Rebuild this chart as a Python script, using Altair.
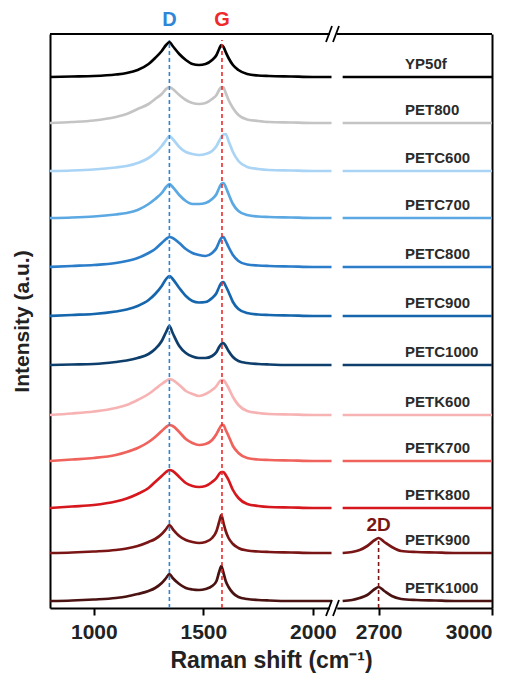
import altair as alt
import pandas as pd

# ---------------- data ----------------
SAMPLES = ["YP50f", "PET800", "PETC600", "PETC700", "PETC800", "PETC900",
           "PETC1000", "PETK600", "PETK700", "PETK800", "PETK900", "PETK1000"]
COLORS = ["#000000", "#c4c4c4", "#aad4f5", "#5ba8e2", "#2b7dc9", "#1666ad",
          "#0e3f6c", "#f7b3b3", "#f0625c", "#d6171e", "#7a1515", "#4b1212"]
# vertical stacking offsets (a.u.)
OFFSETS = [524, 478, 430, 383, 334, 285, 236, 186, 140, 93, 48, 0]

# Raman shift grid, left (first-order) region
X_LEFT = [800, 900, 1000, 1100, 1150, 1200, 1250, 1280, 1310, 1330, 1345, 1360,
          1390, 1420, 1450, 1480, 1510, 1540, 1560, 1572, 1582, 1592, 1602, 1615,
          1635, 1660, 1700, 1750, 1800, 1900, 2000, 2085]
YP50f = [0, 0.5, 1, 2.5, 4, 7, 13, 19, 26, 32, 35, 31, 23, 17, 13, 12, 13, 17, 22, 28,
         32, 30, 25, 19, 12, 7, 3, 1.5, 1, 0.5, 0, 0]
PET800 = [0, 1, 2.5, 6, 9, 14, 19, 24, 29, 34, 36, 34, 28, 23, 20, 19, 20, 24, 28, 33,
          36, 35.5, 30, 23, 15, 8, 3.5, 2, 1, 0.5, 0, 0]
PETC600 = [0, 0.5, 1.5, 3.5, 5, 8, 13, 18, 25, 31, 35, 32, 24, 19, 17, 16, 17, 20, 25, 30,
           34, 36.5, 37, 30, 19, 10, 4, 2, 1, 0.5, 0, 0]
PETC700 = [0, 0.5, 1.5, 3.5, 5, 8, 14, 19, 25, 31, 34, 31, 23, 17, 14, 14, 15, 19, 24, 30,
           34, 35, 31, 24, 14, 7, 3, 1.5, 1, 0.5, 0, 0]
PETC800 = [0, 1, 2, 4, 6, 9, 14, 18, 24, 28, 30, 29, 24, 18, 14, 12, 11, 14, 19, 25,
           29, 30, 26, 20, 12, 6, 2.5, 1.5, 1, 0.5, 0, 0]
PETC900 = [0, 1, 2, 4.5, 6.5, 10, 16, 22, 30, 37, 40, 37, 28, 20, 15, 13.5, 14, 18, 23, 29,
           33, 34, 30, 24, 14, 7, 3, 1.5, 1, 0.5, 0, 0]
PETC1000 = [0, 0.5, 1, 3, 4.5, 7, 11, 16, 24, 33, 39, 32, 19, 12, 8.5, 7, 7, 9, 13, 18,
            21, 22, 19, 14, 8, 4, 2, 1, 0.5, 0, 0, 0]
PETK600 = [0, 1.5, 3.5, 7, 10, 15, 21, 26, 31, 34, 36, 35, 30, 24, 21, 19, 21, 25, 29, 33,
           35, 35, 32, 27, 18, 10, 4, 2, 1, 0.5, 0, 0]
PETK700 = [0, 1.5, 3, 6, 9, 13, 19, 24, 30, 34, 36, 35, 29, 22, 18, 16, 17, 21, 27, 32,
           35.5, 36, 31, 25, 15, 8, 3, 1.5, 1, 0.5, 0, 0]
PETK800 = [0, 1.5, 3, 6.5, 9.5, 14, 20, 26, 32, 36, 38, 37, 31, 25, 22, 21, 22, 26, 30, 34,
           36, 36, 33, 28, 18, 10, 4, 2, 1, 0.5, 0, 0]
PETK900 = [0, 0.5, 1.5, 3, 4.5, 7, 11, 14, 19, 24, 28, 24, 17, 13, 11, 10, 11, 15, 22, 31,
           38, 30, 22, 15, 9, 5, 2.5, 1.5, 1, 0.5, 0, 0]
PETK1000 = [0, 0.5, 1.5, 3, 4.5, 7, 10, 13, 18, 23, 27, 23, 17, 13, 11.5, 11, 12, 15, 20, 29,
            35, 28, 20, 14, 8, 4, 2, 1, 0.5, 0, 0, 0]
LEFT = [YP50f, PET800, PETC600, PETC700, PETC800, PETC900, PETC1000,
        PETK600, PETK700, PETK800, PETK900, PETK1000]

# right (second-order) region
X_RIGHT = [2605, 2630, 2650, 2670, 2690, 2700, 2715, 2735, 2760, 2800, 2850, 2900, 2950, 3000]
FLAT_R = [0, 0, 0, 0, 0, 0, 0, 0, 0, 0, 0, 0, 0, 0]
PETK900_R = [0, 1, 3, 7, 13, 15, 11, 6, 2, 1, 0.5, 0, 0, 0]
PETK1000_R = [0, 1, 3, 6, 12, 14, 10, 5, 2, 1, 0.5, 0, 0, 0]
RIGHT = [FLAT_R, FLAT_R, FLAT_R, FLAT_R, FLAT_R, FLAT_R, FLAT_R,
         FLAT_R, FLAT_R, FLAT_R, PETK900_R, PETK1000_R]

PEAK_NAMES = ["D", "G"]
PEAK_POS = [1345, 1585]
PEAK_COLORS = ["#2e86d6", "#ee2a2a"]
PEAK_TOP = 561
BAND2D_POS = 2700
BAND2D_TOP = 63
BAND2D_LABEL_Y = 76
LABEL_X = 2770
LABEL_DY = 13

X_TICKS_L = [1000, 1500, 2000]
X_TICKS_R = [2700, 3000]

# ---------------- tables ----------------
rows_l, rows_r = [], []
for s, off, vl, vr in zip(SAMPLES, OFFSETS, LEFT, RIGHT):
    for x, v in zip(X_LEFT, vl):
        rows_l.append({"sample": s, "shift": x, "intensity": off + v})
    for x, v in zip(X_RIGHT, vr):
        rows_r.append({"sample": s, "shift": x, "intensity": off + v})
df_l = pd.DataFrame(rows_l)
df_r = pd.DataFrame(rows_r)
df_peaks = pd.DataFrame({"name": PEAK_NAMES, "shift": PEAK_POS, "color": PEAK_COLORS,
                         "intensity": [-7, -7], "intensity2": [PEAK_TOP, PEAK_TOP]})
df_2d = pd.DataFrame({"name": ["2D"], "shift": [BAND2D_POS], "intensity": [-7],
                      "intensity2": [BAND2D_TOP], "ly": [BAND2D_LABEL_Y]})
df_lab = pd.DataFrame({"sample": SAMPLES, "shift": [LABEL_X] * len(SAMPLES),
                       "intensity": [o + LABEL_DY for o in OFFSETS]})
one = pd.DataFrame({"a": [0]})

# ---------------- layout ----------------
W_L, W_R, H = 287, 155, 574
FONT = "Liberation Sans"
XT = "Raman shift (cm⁻¹)"
YT = "Intensity (a.u.)"

yscale = alt.Scale(domain=[-7, 567], nice=False, zero=False)
xs_l = alt.Scale(domain=[800, 2110], nice=False, zero=False)
xs_r = alt.Scale(domain=[2590, 3000], nice=False, zero=False)
color = alt.Color("sample:N", scale=alt.Scale(domain=SAMPLES, range=COLORS), legend=None)

ax_l = alt.Axis(values=X_TICKS_L, format="d", title=XT, titleX=221, titleY=52,
                titleAlign="center", titleBaseline="middle", titleFontSize=23)
ay_l = alt.Axis(title=YT, labels=False, ticks=False, titlePadding=18, titleFontSize=21)
ax_r = alt.Axis(values=X_TICKS_R, format="d", title=None)
ay_r = alt.Axis(orient="right", labels=False, ticks=False, title=None)

lines_l = alt.Chart(df_l).mark_line(strokeWidth=2.7, interpolate="monotone").encode(
    x=alt.X("shift:Q", scale=xs_l, axis=ax_l, title=XT),
    y=alt.Y("intensity:Q", scale=yscale, axis=ay_l, title=YT),
    color=color,
)
peak_rules = alt.Chart(df_peaks).mark_rule(strokeWidth=1.6, strokeDash=[4, 3]).encode(
    x=alt.X("shift:Q", scale=xs_l, title=XT),
    y=alt.Y("intensity:Q", scale=yscale, title=YT),
    y2="intensity2:Q",
    color=alt.Color("color:N", scale=None),
)
peak_text = alt.Chart(df_peaks).mark_text(font=FONT, fontSize=20, fontWeight="bold",
                                          baseline="middle").encode(
    x=alt.X("shift:Q", scale=xs_l, title=XT),
    y=alt.value(-14),
    text="name:N",
    color=alt.Color("color:N", scale=None),
)
top_l = alt.Chart(one).mark_rule(color="black", strokeWidth=2).encode(
    x=alt.value(0), x2=alt.value(W_L), y=alt.value(0))

left = alt.layer(lines_l, peak_rules, peak_text, top_l).properties(width=W_L, height=H)

lines_r = alt.Chart(df_r).mark_line(strokeWidth=2.7, interpolate="monotone").encode(
    x=alt.X("shift:Q", scale=xs_r, axis=ax_r, title=None),
    y=alt.Y("intensity:Q", scale=yscale, axis=ay_r, title=None),
    color=color,
)
rule_2d = alt.Chart(df_2d).mark_rule(strokeWidth=1.6, strokeDash=[4, 3], color="#7a1515").encode(
    x=alt.X("shift:Q", scale=xs_r, title=None),
    y=alt.Y("intensity:Q", scale=yscale, title=None),
    y2="intensity2:Q",
)
text_2d = alt.Chart(df_2d).mark_text(font=FONT, fontSize=19, fontWeight="bold",
                                     color="#7a1515", baseline="middle").encode(
    x=alt.X("shift:Q", scale=xs_r, title=None),
    y=alt.Y("ly:Q", scale=yscale, title=None),
    text="name:N",
)
labels = alt.Chart(df_lab).mark_text(font=FONT, fontSize=15, fontWeight="bold",
                                     color="#2b2b2b", align="left",
                                     baseline="middle").encode(
    x=alt.X("shift:Q", scale=xs_r, title=None),
    y=alt.Y("intensity:Q", scale=yscale, title=None),
    text="sample:N",
)
top_r = alt.Chart(one).mark_rule(color="black", strokeWidth=2).encode(
    x=alt.value(0), x2=alt.value(W_R), y=alt.value(0))

# axis-break decoration
deco = []
for yy in [0, H]:
    deco.append(alt.Chart(one).mark_rule(color="white", strokeWidth=5).encode(
        x=alt.value(-7), x2=alt.value(0), y=alt.value(yy)))
    deco.append(alt.Chart(one).mark_rule(color="black", strokeWidth=1.8).encode(
        x=alt.value(-11), x2=alt.value(-5), y=alt.value(yy + 8), y2=alt.value(yy - 8)))
    deco.append(alt.Chart(one).mark_rule(color="black", strokeWidth=1.8).encode(
        x=alt.value(-4), x2=alt.value(2), y=alt.value(yy + 8), y2=alt.value(yy - 8)))

right = alt.layer(lines_r, rule_2d, text_2d, labels, top_r, *deco).properties(width=W_R, height=H)

chart = alt.hconcat(left, right, spacing=0, bounds="flush").properties(
    padding={"left": 3, "top": 2, "right": 5, "bottom": 5}
).configure_view(stroke=None).configure_axis(
    domainColor="black", domainWidth=2, tickColor="black", tickWidth=2, tickSize=7,
    labelFont=FONT, labelFontSize=21, labelFontWeight="bold", labelColor="#222222",
    labelPadding=6, titleFont=FONT, titleFontWeight="bold", titleColor="#222222",
    grid=False,
)

chart.save("out.html", embed_options={"renderer": "svg", "actions": False})
